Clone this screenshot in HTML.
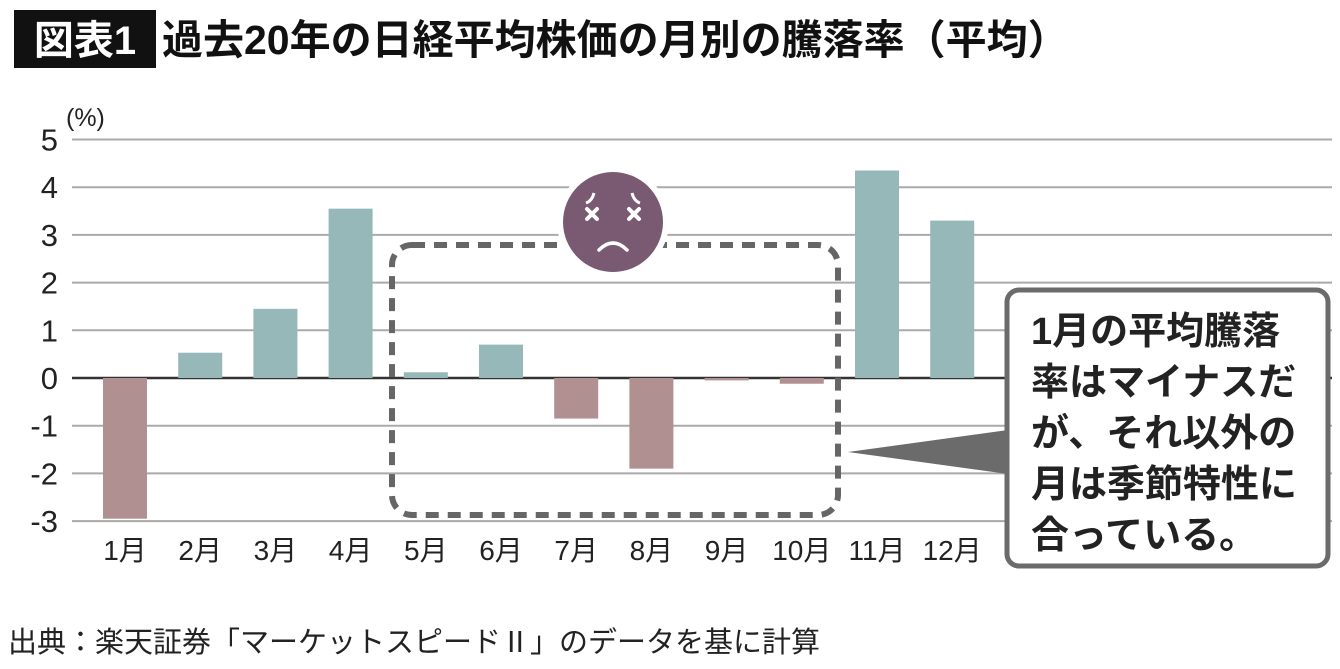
<!DOCTYPE html>
<html><head><meta charset="utf-8"><style>
body{margin:0;width:1340px;height:664px;background:#fff;overflow:hidden;font-family:"Liberation Sans","Noto Sans CJK JP",sans-serif;}
svg text{font-family:"Liberation Sans","Noto Sans CJK JP",sans-serif;}
</style></head><body>
<svg id="c" width="1340" height="664" xmlns="http://www.w3.org/2000/svg">
<rect x="14" y="10" width="142" height="58" fill="#111"/>
<text x="85" y="54" fill="#fff" font-size="40" font-weight="bold" text-anchor="middle">図表1</text>
<text x="162" y="54" fill="#111" font-size="41" font-weight="bold">過去20年の日経平均株価の月別の騰落率（平均）</text>
<text x="66" y="126" fill="#222" font-size="25">(%)</text>
<g id="grid"></g><g id="bars"></g><g id="labels"></g>
<text x="8" y="652" fill="#222" font-size="29">出典：楽天証券「マーケットスピードⅡ」のデータを基に計算</text>
</svg>
<script>
const months=["1月","2月","3月","4月","5月","6月","7月","8月","9月","10月","11月","12月"];
const values=[-2.95,0.53,1.45,3.55,0.12,0.7,-0.85,-1.9,-0.05,-0.12,4.35,3.3];
const ticks=[5,4,3,2,1,0,-1,-2,-3];
const NS="http://www.w3.org/2000/svg";
const y=v=>378-v*47.7;
const x=i=>125+75.2*i;
function mk(t,a,p){const e=document.createElementNS(NS,t);for(const k in a)e.setAttribute(k,a[k]);p.appendChild(e);return e;}
const svg=document.getElementById('c');
const grid=document.getElementById('grid'),bars=document.getElementById('bars'),lab=document.getElementById('labels');
ticks.forEach(t=>{
 const l=mk('line',{x1:72,x2:1332,y1:y(t),y2:y(t),stroke:t===0?'#333':'#aaa','stroke-width':t===0?2.5:2},grid);
 
 
 const tx=mk('text',{x:58,y:y(t)+11,'font-size':31,fill:'#222','text-anchor':'end'},grid);
 tx.textContent=t;
 
 
});
values.forEach((v,i)=>{
 const r=mk('rect',{x:x(i)-22,width:44,y:Math.min(y(v),y(0)),height:Math.abs(y(v)-y(0)),fill:v>=0?'#97b8b8':'#b09090'},bars);
 
 
 const t=mk('text',{x:x(i),y:560,'font-size':28,fill:'#222','text-anchor':'middle'},lab);
 t.textContent=months[i];
 
 
});
const ov=document.createElementNS(NS,'g');svg.appendChild(ov);
ov.innerHTML=`
<rect x="392" y="245" width="446" height="270" rx="20" fill="none" stroke="#666" stroke-width="6" stroke-dasharray="13 9"/>
<g>
<circle cx="613" cy="222" r="56" fill="#fff"/>
<circle cx="613" cy="222" r="50" fill="#7a5a72"/>
<path d="M594 193 q-2 8 -8 10 M632 193 q2 8 8 10" stroke="#fff" stroke-width="3" fill="none"/>
<path d="M587 209 l10 10 M597 209 l-10 10 M629 209 l10 10 M639 209 l-10 10" stroke="#fff" stroke-width="4" stroke-linecap="round"/>
<path d="M599 250 q14 -14 28 0" stroke="#fff" stroke-width="3.5" fill="none" stroke-linecap="round"/>
</g>
<polygon points="848,452 1008,430 1008,474" fill="#6b6b6b"/>
<rect x="1007" y="290" width="321" height="276" rx="12" fill="#fff" stroke="#6b6b6b" stroke-width="5"/>
<g font-size="38" font-weight="bold" fill="#222">
<text x="1031" y="344">1月の平均騰落</text>
<text x="1031" y="395">率はマイナスだ</text>
<text x="1031" y="446">が、それ以外の</text>
<text x="1031" y="497">月は季節特性に</text>
<text x="1031" y="548">合っている。</text>
</g>`;
</script>
</body></html>
